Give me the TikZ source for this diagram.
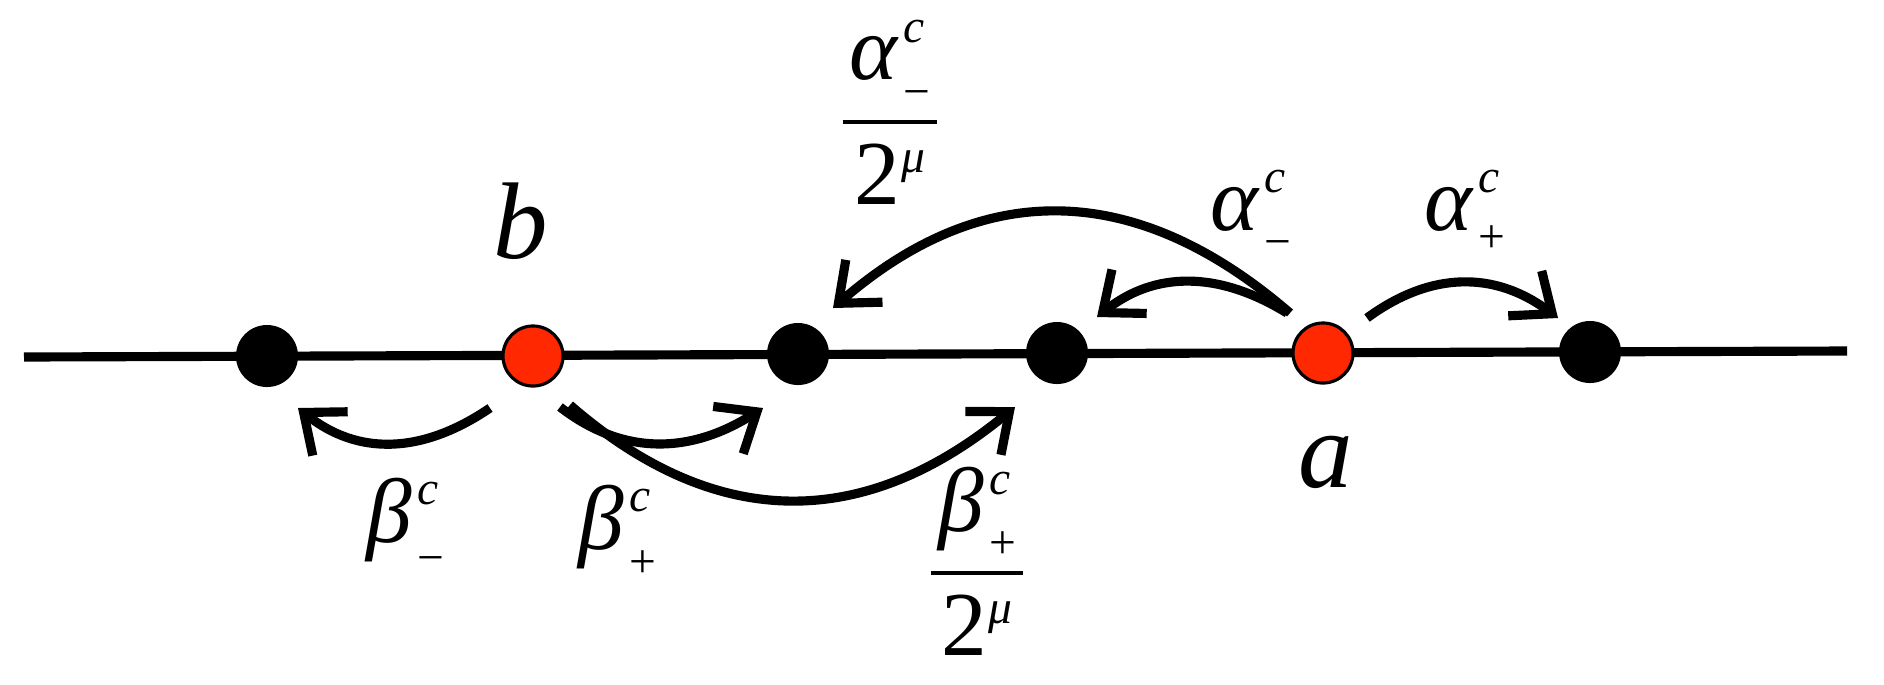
\documentclass[tikz,border=0pt]{standalone}
\usepackage{amsmath}
\usepackage{fontspec}
\setmainfont{Liberation Serif}
\usetikzlibrary{arrows.meta}
\definecolor{dotred}{RGB}{255,40,0}
% base symbol with stacked superscript and subscript: #1 base, #2 sup, #3 sub, #4 lowering of sub
\newcommand{\scrfont}{\fontsize{13.5}{14}\selectfont}
\newcommand{\gsym}[4]{{\itshape #1}\kern0.06em\rlap{\raisebox{10.7pt}{\scrfont\itshape #2}}\raisebox{-#4}{\scrfont #3}}
\newcommand{\twomu}{2\kern0.02em\raisebox{9pt}{\scrfont\itshape μ}}
\newcommand{\barfrac}[2]{\genfrac{}{}{1.2pt}{0}{#1}{#2}}
\tikzset{
  dotblack/.style={circle,fill=black,minimum size=0.62cm,inner sep=0pt},
  dotred/.style={circle,fill=dotred,draw=black,line width=0.9pt,minimum size=0.6cm,inner sep=0pt},
  axisline/.style={line width=2.6pt},
  arr/.style={line width=2.6pt,-{Straight Barb[length=0.34cm,width=0.56cm,line width=2.6pt]}},
  biglbl/.style={font=\fontsize{31}{36}\selectfont,inner sep=0pt,anchor=base},
  lbl/.style={font=\fontsize{26}{30}\selectfont,inner sep=0pt,anchor=base west},
  fraclbl/.style={font=\fontsize{26}{30}\selectfont,inner sep=0pt,anchor=base},
}
\begin{document}
\begin{tikzpicture}[x=0.01cm,y=-0.01cm]
\useasboundingbox (0,0) rectangle (1884,684);
% axis end points
\coordinate (L) at (24,357);
\coordinate (R) at (1847,351);
\draw[axisline] (L) -- (R);
% dots
\node[dotblack] (d1) at (267,356) {};
\node[dotred]   (b)  at (533,356) {};
\node[dotblack] (d3) at (798,354) {};
\node[dotblack] (d4) at (1057,353) {};
\node[dotred]   (a)  at (1323,353) {};
\node[dotblack] (d6) at (1590,352) {};
% arrows below (from b)
\draw[arr] ([shift={(-43,52)}]b.center) .. controls ([shift={(-112,99)}]b.center) and ([shift={(90,99)}]d1.center) .. ([shift={(31,52)}]d1.center);
\draw[arr] ([shift={(27,51)}]b.center) .. controls ([shift={(89,99)}]b.center) and ([shift={(-109,101)}]d3.center) .. ([shift={(-35,54)}]d3.center);
\draw[arr] ([shift={(37,49)}]b.center) .. controls ([shift={(182,175)}]b.center) and ([shift={(-194,179)}]d4.center) .. ([shift={(-42,54)}]d4.center);
% arrows above (from a)
\draw[arr] ([shift={(-36,-40)}]a.center) .. controls ([shift={(-106,-83)}]a.center) and ([shift={(97,-81)}]d4.center) .. ([shift={(40,-36)}]d4.center);
\draw[arr] ([shift={(-33,-40)}]a.center) .. controls ([shift={(-187,-173)}]a.center) and ([shift={(185,-176)}]d3.center) .. ([shift={(35,-46)}]d3.center);
\draw[arr] ([shift={(44,-35)}]a.center) .. controls ([shift={(108,-82)}]a.center) and ([shift={(-95,-81)}]d6.center) .. ([shift={(-32,-34)}]d6.center);
% labels
\node[biglbl] (lb) at (521,258) {\itshape b};
\node[biglbl] (la) at (1326,487) {\itshape a};
\node[fraclbl] (lamf) at (890,144) {$\barfrac{\mbox{\kern0.08em\gsym{α}{c}{−}{7.8pt}\kern0.08em}}{\mbox{\twomu}}$};
\node[lbl] (lam) at (1210,230) {\gsym{α}{c}{−}{7.8pt}};
\node[lbl] (lap) at (1424,230) {\gsym{α}{c}{+}{6.5pt}};
\node[lbl] (lbm) at (366,542) {\gsym{β}{c}{−}{9pt}};
\node[lbl] (lbp) at (578,549) {\gsym{β}{c}{+}{8pt}};
\node[fraclbl] (lbpf) at (977,595) {$\barfrac{\mbox{\kern0.08em\gsym{β}{c}{+}{7.5pt}\kern0.08em}}{\mbox{\twomu}}$};
\end{tikzpicture}
\end{document}
